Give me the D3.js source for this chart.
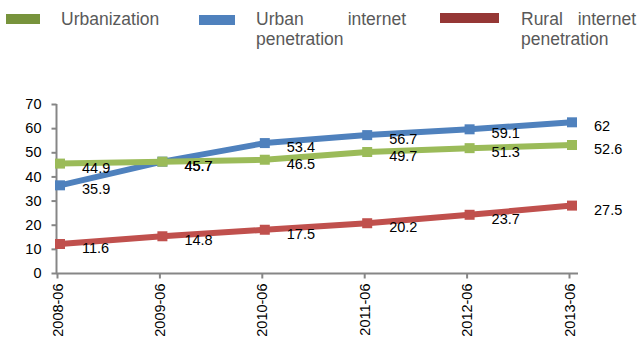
<!DOCTYPE html>
<html>
<head>
<meta charset="utf-8">
<script src="https://cdn.jsdelivr.net/npm/d3@7/dist/d3.min.js"></script>
<style>
  html, body { margin: 0; padding: 0; background: #fff; }
  svg { display: block; font-family: "Liberation Sans", Arial, sans-serif; }
</style>
</head>
<body>
<svg id="chart" width="638" height="342"></svg>
<script>
// Survey months (x categories)
const months = ["2008-06", "2009-06", "2010-06", "2011-06", "2012-06", "2013-06"];
// Percent values per series
const urbanization = [44.9, 45.7, 46.5, 49.7, 51.3, 52.6];
const urbanInternet = [35.9, 45.7, 53.4, 56.7, 59.1, 62];
const ruralInternet = [11.6, 14.8, 17.5, 20.2, 23.7, 27.5];
const yTicks = [0, 10, 20, 30, 40, 50, 60, 70];

const series = [
  { key: "urban", values: urbanInternet, line: "#4F81BD", legend: "#4F81BD" },
  { key: "urbanization", values: urbanization, line: "#9BBB59", legend: "#77933C" },
  { key: "rural", values: ruralInternet, line: "#C0504D", legend: "#953735" }
];

const svg = d3.select("#chart");

const x = d3.scalePoint().domain(months).range([57, 569]);
const y = d3.scaleLinear().domain([0, 70]).range([273, 104]);

// Y axis
const yAxis = d3.axisLeft(y).tickValues(yTicks).tickSize(5).tickPadding(10).tickSizeOuter(0);
const gy = svg.append("g").attr("transform", "translate(56.5,0)").call(yAxis);
gy.select(".domain").attr("stroke", "#868686").attr("stroke-width", 2)
  .attr("d", `M0,${y(70)}V${y(0)}`);
gy.selectAll(".tick line").attr("stroke", "#868686").attr("stroke-width", 2);
gy.selectAll(".tick text").attr("font-size", 14.5).attr("fill", "#000")
  .attr("font-family", "'Liberation Sans', Arial, sans-serif");

// X axis
const xAxis = d3.axisBottom(x).tickSize(5).tickSizeOuter(0);
const gx = svg.append("g").attr("transform", `translate(0,${y(0) + 0.5})`).call(xAxis);
gx.select(".domain").attr("stroke", "#868686").attr("stroke-width", 2)
  .attr("d", `M${x(months[0]) - 1},0H${x(months[months.length - 1]) + 9}`);
gx.selectAll(".tick line").attr("stroke", "#868686").attr("stroke-width", 2);
gx.selectAll(".tick text")
  .attr("font-size", 14.5).attr("fill", "#000")
  .attr("font-family", "'Liberation Sans', Arial, sans-serif")
  .attr("text-anchor", "end")
  .attr("transform", "rotate(-90)")
  .attr("x", -10).attr("y", 0).attr("dy", "0.35em");

// Series lines and square markers
const plot = svg.append("g").attr("transform", "translate(3,-1)");
const line = d3.line().x((d, i) => x(months[i])).y(d => y(d));

series.forEach(s => {
  const g = plot.append("g");
  g.append("path")
    .attr("d", line(s.values))
    .attr("fill", "none")
    .attr("stroke", s.line)
    .attr("stroke-width", 6)
    .attr("stroke-linejoin", "round");
  g.selectAll("rect").data(s.values).join("rect")
    .attr("x", (d, i) => x(months[i]) - 5)
    .attr("y", d => y(d) - 5)
    .attr("width", 10)
    .attr("height", 10)
    .attr("fill", s.line);
});

// Value labels
series.forEach(s => {
  plot.append("g").selectAll("text").data(s.values).join("text")
    .attr("x", (d, i) => x(months[i]) + 22)
    .attr("y", d => y(d) + 9)
    .attr("font-size", 14.5)
    .attr("fill", "#000")
    .text(d => d);
});

// Legend
const legend = svg.append("g").attr("font-size", 17.5).attr("fill", "#595959");
legend.append("rect").attr("x", 6).attr("y", 14).attr("width", 34).attr("height", 10).attr("fill", series[1].legend);
legend.append("text").attr("x", 61).attr("y", 25).text("Urbanization");

legend.append("rect").attr("x", 199).attr("y", 15).attr("width", 36).attr("height", 10).attr("fill", series[0].legend);
legend.append("text").attr("x", 256).attr("y", 25).text("Urban");
legend.append("text").attr("x", 406).attr("y", 25).attr("text-anchor", "end").text("internet");
legend.append("text").attr("x", 256).attr("y", 45).text("penetration");

legend.append("rect").attr("x", 440).attr("y", 13).attr("width", 59).attr("height", 10).attr("fill", series[2].legend);
legend.append("text").attr("x", 521).attr("y", 25).text("Rural");
legend.append("text").attr("x", 636).attr("y", 25).attr("text-anchor", "end").text("internet");
legend.append("text").attr("x", 521).attr("y", 45).text("penetration");
</script>
</body>
</html>
